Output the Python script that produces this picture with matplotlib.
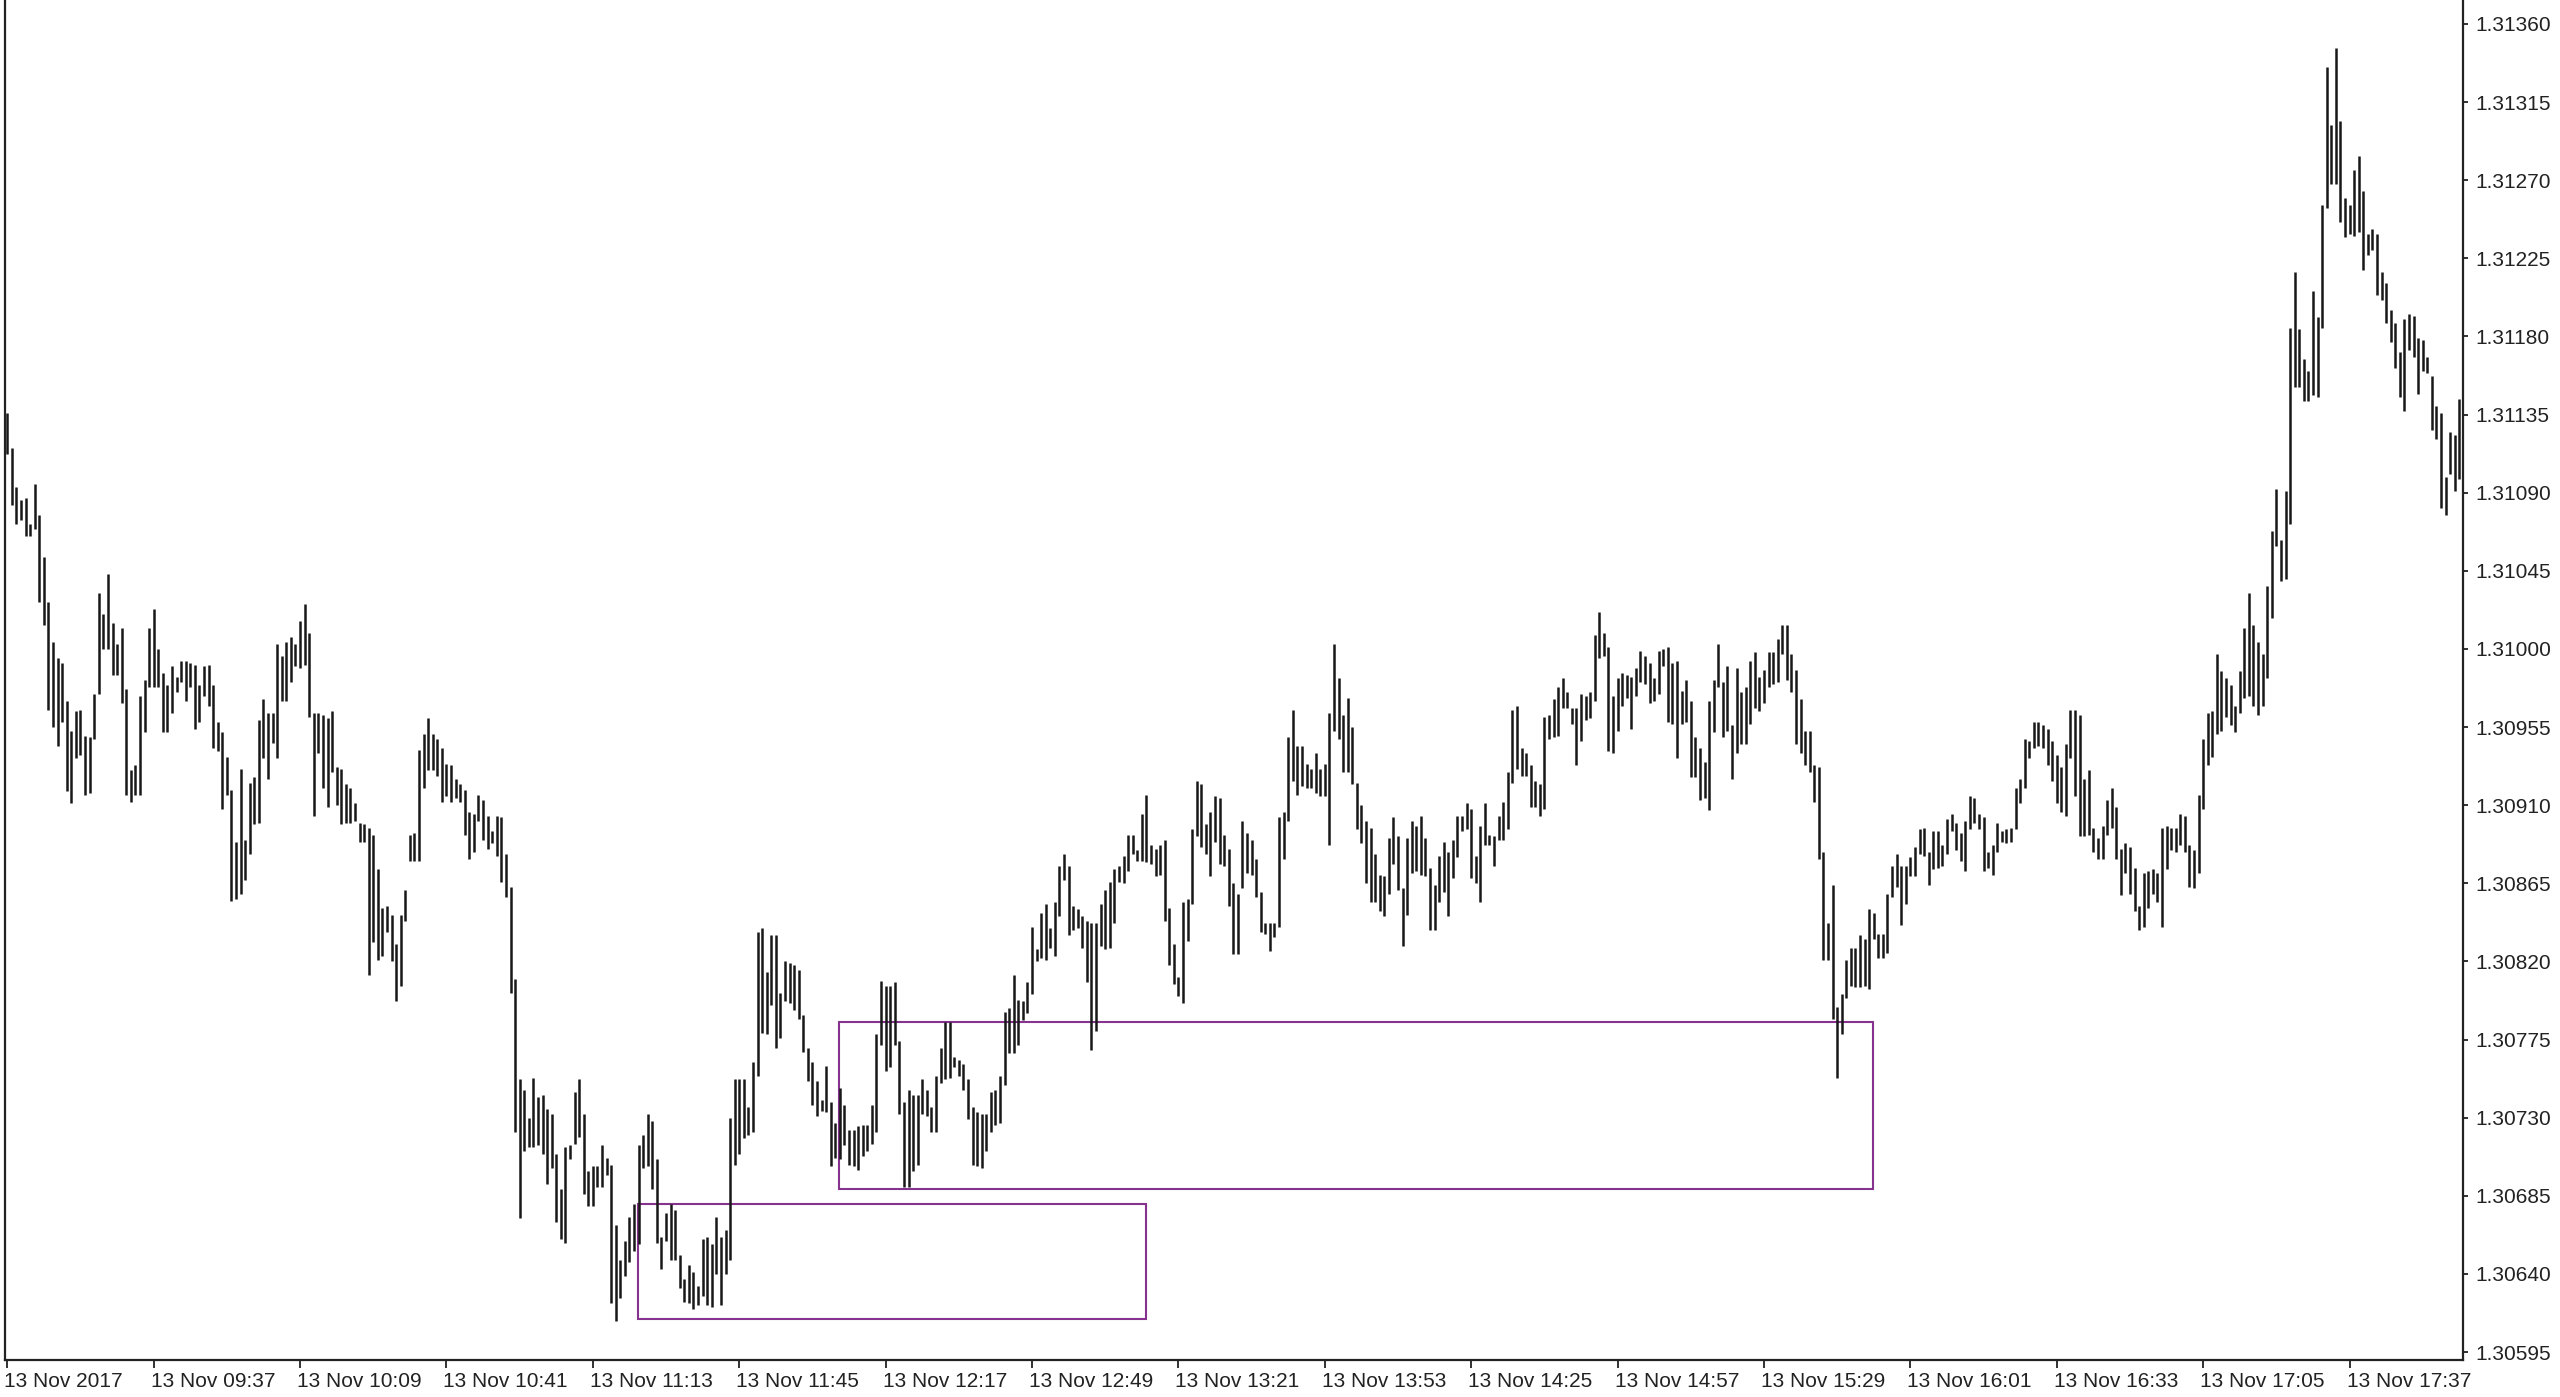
import matplotlib
matplotlib.use("Agg")
import matplotlib.pyplot as plt
import matplotlib.transforms as mtransforms
from matplotlib.patches import Rectangle
import numpy as np

plt.rcParams['font.family'] = ['Liberation Sans', 'DejaVu Sans']

# GBPUSD-style 1-minute bars, 13 Nov 2017 09:05 .. 18:01
# price = 1.30000 + pts / 100000
high_pts = [
    1136, 1116, 1093, 1086, 1087, 1072, 1095, 1077, 1053, 1027,
    1004, 995, 992, 970, 953, 964, 965, 950, 949, 974,
    1032, 1020, 1043, 1015, 1003, 1012, 977, 930, 933, 973,
    982, 1012, 1023, 1000, 986, 979, 990, 984, 993, 993,
    992, 991, 979, 990, 991, 979, 958, 952, 938, 919,
    889, 931, 890, 923, 926, 959, 971, 963, 963, 1003,
    996, 1004, 1007, 1003, 1016, 1026, 1009, 963, 963, 962,
    960, 964, 932, 931, 922, 920, 911, 900, 899, 897,
    893, 873, 851, 852, 847, 830, 847, 861, 893, 894,
    942, 951, 960, 951, 948, 943, 934, 933, 925, 922,
    919, 906, 905, 916, 913, 904, 895, 904, 903, 882,
    863, 810, 752, 746, 730, 753, 742, 743, 735, 732,
    709, 689, 713, 714, 745, 752, 732, 699, 702, 702,
    714, 707, 703, 668, 648, 659, 673, 680, 714, 720,
    732, 728, 706, 661, 675, 680, 677, 651, 637, 645,
    641, 633, 660, 661, 657, 673, 661, 665, 730, 752,
    752, 752, 736, 762, 837, 839, 814, 835, 835, 802,
    820, 819, 818, 815, 789, 770, 762, 751, 740, 760,
    739, 727, 747, 737, 723, 723, 725, 726, 726, 737,
    778, 809, 806, 806, 808, 774, 739, 746, 743, 743,
    752, 746, 736, 754, 770, 785, 785, 765, 763, 761,
    752, 736, 733, 732, 732, 745, 746, 754, 791, 793,
    812, 798, 797, 808, 840, 827, 848, 853, 839, 854,
    875, 882, 875, 852, 850, 846, 843, 842, 842, 853,
    861, 866, 873, 875, 881, 893, 893, 884, 905, 916,
    887, 885, 887, 890, 851, 830, 811, 854, 856, 896,
    924, 922, 899, 906, 915, 914, 893, 885, 865, 859,
    901, 894, 890, 879, 860, 842, 842, 842, 903, 906,
    949, 965, 944, 944, 934, 931, 940, 931, 934, 963,
    1003, 983, 962, 972, 955, 923, 910, 901, 897, 882,
    870, 869, 891, 903, 892, 862, 891, 901, 898, 904,
    891, 874, 864, 881, 889, 883, 890, 904, 904, 911,
    908, 881, 898, 911, 893, 892, 904, 912, 929, 965,
    967, 943, 940, 933, 924, 922, 961, 962, 971, 978,
    983, 975, 966, 966, 974, 973, 975, 1008, 1021, 1009,
    1001, 973, 983, 986, 985, 984, 989, 999, 996, 992,
    983, 999, 1000, 1001, 992, 993, 976, 982, 970, 949,
    943, 935, 970, 982, 1003, 981, 990, 956, 989, 975,
    978, 993, 998, 984, 988, 998, 998, 1006, 1014, 1014,
    997, 988, 971, 953, 953, 933, 932, 883, 842, 864,
    794, 801, 821, 828, 828, 835, 833, 850, 848, 836,
    836, 859, 875, 882, 875, 875, 880, 886, 896, 897,
    883, 895, 895, 887, 902, 905, 900, 894, 901, 915,
    914, 905, 903, 883, 887, 900, 895, 896, 897, 920,
    925, 948, 947, 958, 958, 956, 954, 947, 939, 932,
    945, 965, 965, 962, 925, 930, 897, 891, 898, 913,
    920, 909, 885, 888, 886, 874, 852, 871, 872, 873,
    871, 897, 898, 897, 897, 905, 904, 887, 884, 916,
    948, 963, 964, 997, 987, 983, 979, 967, 987, 1012,
    1032, 1014, 1004, 997, 1036, 1068, 1092, 1063, 1091, 1185,
    1217, 1184, 1167, 1160, 1206, 1191, 1256, 1335, 1302, 1346,
    1304, 1260, 1256, 1276, 1284, 1264, 1239, 1242, 1239, 1217,
    1211, 1195, 1188, 1171, 1190, 1193, 1192, 1179, 1178, 1168,
    1157, 1140, 1136, 1099, 1125, 1123, 1144,
]
low_pts = [
    1112, 1083, 1072, 1074, 1065, 1065, 1069, 1027, 1014, 965,
    955, 944, 958, 918, 911, 937, 939, 916, 917, 948,
    974, 1000, 1000, 985, 985, 969, 916, 912, 916, 916,
    952, 978, 978, 978, 952, 952, 963, 975, 981, 970,
    978, 954, 958, 973, 967, 943, 941, 908, 916, 855,
    856, 859, 867, 882, 899, 900, 937, 925, 946, 937,
    970, 970, 981, 990, 989, 991, 961, 904, 940, 920,
    909, 929, 910, 899, 900, 900, 901, 889, 889, 812,
    831, 821, 823, 837, 820, 797, 806, 843, 878, 878,
    878, 920, 930, 930, 927, 912, 915, 912, 914, 912,
    893, 879, 883, 901, 890, 885, 888, 881, 866, 857,
    802, 722, 672, 711, 713, 713, 714, 709, 692, 701,
    670, 660, 658, 706, 715, 719, 686, 679, 679, 690,
    690, 697, 623, 613, 626, 639, 647, 653, 657, 701,
    702, 689, 658, 643, 659, 648, 648, 632, 624, 623,
    620, 622, 627, 622, 621, 640, 622, 640, 648, 703,
    709, 718, 720, 722, 754, 779, 778, 795, 770, 776,
    797, 796, 792, 787, 768, 751, 737, 731, 734, 733,
    702, 707, 706, 714, 703, 702, 700, 708, 711, 715,
    722, 772, 757, 759, 772, 732, 690, 690, 699, 703,
    732, 731, 722, 722, 750, 752, 753, 759, 754, 746,
    729, 703, 702, 701, 711, 722, 726, 727, 749, 767,
    767, 772, 786, 790, 801, 820, 822, 821, 828, 823,
    846, 867, 835, 838, 839, 828, 808, 769, 780, 829,
    827, 828, 842, 866, 865, 872, 882, 878, 878, 877,
    876, 869, 870, 843, 818, 807, 800, 796, 832, 853,
    892, 886, 882, 869, 889, 876, 875, 852, 824, 824,
    862, 871, 870, 857, 837, 836, 826, 834, 840, 879,
    901, 924, 916, 921, 920, 920, 917, 915, 915, 887,
    953, 948, 929, 929, 922, 896, 888, 865, 854, 854,
    849, 846, 859, 876, 861, 829, 847, 871, 872, 870,
    869, 838, 838, 854, 860, 846, 868, 880, 895, 896,
    868, 865, 854, 887, 887, 875, 890, 890, 896, 923,
    931, 927, 927, 909, 909, 904, 908, 948, 949, 950,
    966, 966, 957, 933, 947, 959, 960, 970, 995, 996,
    941, 940, 953, 967, 972, 954, 973, 981, 980, 969,
    970, 974, 990, 958, 957, 937, 957, 958, 926, 926,
    913, 914, 907, 952, 978, 949, 953, 925, 940, 945,
    945, 957, 966, 964, 969, 978, 980, 981, 997, 982,
    975, 945, 940, 933, 929, 912, 879, 821, 821, 787,
    753, 778, 799, 806, 805, 805, 806, 804, 833, 822,
    822, 825, 857, 863, 841, 853, 869, 869, 882, 881,
    864, 873, 874, 875, 882, 895, 884, 878, 872, 896,
    900, 896, 872, 874, 870, 883, 889, 888, 889, 896,
    911, 920, 937, 943, 944, 943, 933, 924, 911, 906,
    904, 937, 915, 892, 892, 893, 883, 879, 879, 893,
    897, 879, 858, 871, 859, 849, 838, 840, 851, 859,
    854, 840, 873, 884, 883, 887, 883, 863, 862, 871,
    908, 933, 938, 951, 953, 961, 956, 952, 963, 972,
    973, 967, 962, 967, 983, 1018, 1059, 1039, 1040, 1072,
    1151, 1151, 1143, 1143, 1146, 1145, 1185, 1254, 1268, 1268,
    1246, 1237, 1239, 1238, 1240, 1218, 1227, 1230, 1204, 1201,
    1188, 1177, 1162, 1145, 1137, 1172, 1168, 1147, 1160, 1159,
    1126, 1121, 1081, 1077, 1101, 1091, 1098,
]

x_tick_bars = [0, 32, 64, 96, 128, 160, 192, 224, 256, 288, 320, 352, 384, 416, 448, 480, 512]
x_tick_labels = ["13 Nov 2017", "13 Nov 09:37", "13 Nov 10:09", "13 Nov 10:41", "13 Nov 11:13",
                 "13 Nov 11:45", "13 Nov 12:17", "13 Nov 12:49", "13 Nov 13:21", "13 Nov 13:53",
                 "13 Nov 14:25", "13 Nov 14:57", "13 Nov 15:29", "13 Nov 16:01", "13 Nov 16:33",
                 "13 Nov 17:05", "13 Nov 17:37"]
y_ticks = [1.30595, 1.30640, 1.30685, 1.30730, 1.30775, 1.30820, 1.30865, 1.30910, 1.30955,
           1.31000, 1.31045, 1.31090, 1.31135, 1.31180, 1.31225, 1.31270, 1.31315, 1.31360]

# Rectangles (bar index start, bar index end, price low, price high)
rect_x0 = [137.9, 181.8]
rect_x1 = [248.9, 407.8]
rect_lo = [1.30614, 1.30689]
rect_hi = [1.30680, 1.30785]

highs = 1.3 + np.array(high_pts) / 100000.0
lows = 1.3 + np.array(low_pts) / 100000.0
idx = np.arange(len(highs))

W, H = 2560, 1397
fig = plt.figure(figsize=(W / 100, H / 100), dpi=100)
ax = fig.add_axes([5 / W, 37 / H, (2463 - 5) / W, 1360 / H])

ax.vlines(idx, lows, highs, colors='#181818', linewidth=1.8)

for x0, x1, lo, hi in zip(rect_x0, rect_x1, rect_lo, rect_hi):
    ax.add_patch(Rectangle((x0, lo), x1 - x0, hi - lo, fill=False,
                           edgecolor='#86338f', linewidth=1.5))

ax.set_xlim(-0.5, 536.8)
ax.set_ylim(1.305904, 1.313738)

ax.set_xticks(x_tick_bars)
ax.set_xticklabels(x_tick_labels)
ax.set_yticks(y_ticks)
ax.set_yticklabels([f"{v:.5f}" for v in y_ticks])
ax.yaxis.tick_right()

ax.tick_params(axis='x', direction='out', length=5.8, width=1.3, pad=3,
               labelsize=15, colors='#222222')
ax.tick_params(axis='y', direction='out', length=3.6, width=1.3, pad=5,
               labelsize=15, colors='#222222')

offset = mtransforms.ScaledTranslation(-3 / 100, 0, fig.dpi_scale_trans)
for lab in ax.get_xticklabels():
    lab.set_horizontalalignment('left')
    lab.set_transform(lab.get_transform() + offset)

for side in ['left', 'bottom', 'right']:
    ax.spines[side].set_color('#222222')
    ax.spines[side].set_linewidth(1.6)
ax.spines['top'].set_visible(False)

fig.savefig("out.png", dpi=100, facecolor='white')
